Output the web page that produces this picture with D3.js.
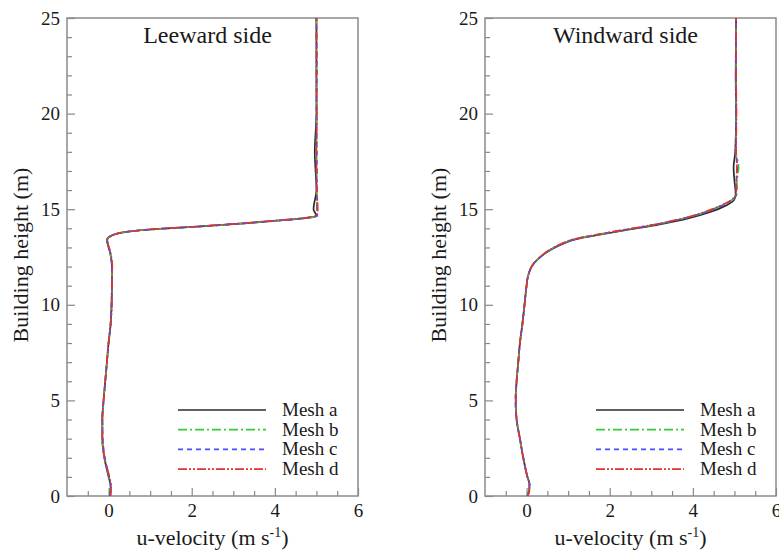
<!DOCTYPE html>
<html>
<head>
<meta charset="utf-8">
<script src="https://cdn.jsdelivr.net/npm/d3@7"></script>
<style>
  body { margin: 0; background: #fff; }
</style>
</head>
<body>
<div id="chart"></div>
<script>
var svgWidth = 779;
var svgHeight = 551;
var serif = "'Liberation Serif', 'Times New Roman', Times, serif";

// axis domains and ticks
var xDomain = [-1, 6];
var yDomain = [0, 25];
var xMajorTicks = [0, 2, 4, 6];
var yMajorTicks = [0, 5, 10, 15, 20, 25];

var meshLabels = ["Mesh a", "Mesh b", "Mesh c", "Mesh d"];
var meshColors = ["#2b2b2b", "#33cc33", "#4d4dff", "#e03333"];
var meshDashes = ["none", "9,3,2,3", "5,4", "9,2,2,2,2,2"];

// leeward side profiles: height (m) and u-velocity per mesh
var leeZ = [0, 0.5, 1, 2, 3, 4, 5, 6, 7, 8, 9, 10, 11, 12, 12.7, 13.4, 13.6, 13.8, 13.9, 14.0, 14.1, 14.25, 14.4, 14.55, 14.65, 15, 16, 18, 20, 22, 25];
var leeA = [0.03, 0.05, 0.0, -0.1, -0.15, -0.15, -0.12, -0.08, -0.04, 0.0, 0.05, 0.07, 0.08, 0.08, 0.04, -0.04, 0.05, 0.38, 0.77, 1.41, 2.21, 3.17, 4.05, 4.77, 5.0, 4.93, 5.0, 4.96, 5.0, 5.0, 5.0];
var leeB = [0.04, 0.05, 0.01, -0.1, -0.15, -0.15, -0.12, -0.08, -0.04, 0.0, 0.05, 0.07, 0.08, 0.08, 0.04, -0.03, 0.06, 0.4, 0.8, 1.44, 2.24, 3.2, 4.08, 4.8, 5.02, 5.01, 5.01, 5.0, 5.01, 5.0, 5.0];
var leeC = [0.04, 0.05, 0.01, -0.09, -0.14, -0.15, -0.12, -0.08, -0.04, 0.0, 0.05, 0.07, 0.08, 0.08, 0.04, -0.03, 0.06, 0.39, 0.79, 1.43, 2.23, 3.19, 4.07, 4.79, 5.02, 5.02, 5.01, 5.01, 5.0, 5.01, 5.0];
var leeD = [0.05, 0.06, 0.02, -0.1, -0.15, -0.15, -0.12, -0.08, -0.04, 0.0, 0.05, 0.08, 0.08, 0.09, 0.05, -0.03, 0.06, 0.38, 0.76, 1.38, 2.18, 3.13, 4.0, 4.74, 5.0, 5.03, 5.01, 5.0, 5.01, 5.0, 5.0];

// windward side profiles
var windZ = [0, 0.3, 0.6, 1, 2, 3, 4, 5, 6, 7, 8, 9, 10, 11, 11.45, 11.8, 12.0, 12.4, 12.85, 13.2, 13.45, 13.65, 13.9, 14.2, 14.5, 14.85, 15.2, 15.45, 15.8, 16.5, 17.2, 18, 20, 22, 25];
var windA = [0.02, 0.06, 0.07, 0.02, -0.08, -0.16, -0.24, -0.26, -0.24, -0.2, -0.16, -0.1, -0.05, 0.0, 0.03, 0.08, 0.12, 0.28, 0.56, 0.88, 1.22, 1.72, 2.38, 3.2, 3.86, 4.42, 4.8, 4.98, 5.03, 5.0, 4.98, 5.02, 5.04, 5.03, 5.04];
var windB = [0.02, 0.06, 0.07, 0.02, -0.08, -0.16, -0.24, -0.26, -0.24, -0.2, -0.16, -0.1, -0.05, 0.0, 0.03, 0.08, 0.12, 0.28, 0.55, 0.86, 1.18, 1.66, 2.3, 3.1, 3.74, 4.3, 4.7, 4.92, 5.05, 5.06, 5.1, 5.04, 5.04, 5.04, 5.04];
var windC = [0.02, 0.06, 0.07, 0.02, -0.08, -0.16, -0.24, -0.27, -0.24, -0.2, -0.16, -0.1, -0.05, 0.0, 0.03, 0.08, 0.12, 0.28, 0.55, 0.87, 1.19, 1.67, 2.31, 3.11, 3.75, 4.31, 4.71, 4.93, 5.05, 5.05, 5.07, 5.04, 5.04, 5.04, 5.04];
var windD = [0.03, 0.07, 0.07, 0.02, -0.08, -0.16, -0.24, -0.26, -0.24, -0.2, -0.16, -0.1, -0.05, 0.0, 0.03, 0.08, 0.12, 0.27, 0.54, 0.85, 1.17, 1.64, 2.28, 3.08, 3.72, 4.28, 4.68, 4.9, 5.04, 5.05, 5.06, 5.04, 5.05, 5.04, 5.04];

var svg = d3.select("#chart")
  .append("svg")
  .attr("width", svgWidth)
  .attr("height", svgHeight)
  .style("font-family", serif);

// plot area of each panel
var plotWidth = 291;
var plotHeight = 478;
var plotTop = 18;

function drawPanel(left, title, zs, series, labels) {
  var g = svg.append("g")
    .attr("transform", `translate(${left}, ${plotTop})`);

  var xScale = d3.scaleLinear().domain(xDomain).range([0, plotWidth]);
  var yScale = d3.scaleLinear().domain(yDomain).range([plotHeight, 0]);

  // inward ticks, major and minor
  var bottomMinor = d3.axisBottom(xScale)
    .tickValues(d3.range(-0.5, 6, 0.5).filter(d => d % 2 !== 0))
    .tickSize(-5).tickFormat("");
  var bottomMajor = d3.axisBottom(xScale)
    .tickValues(xMajorTicks)
    .tickFormat(d3.format("d"))
    .tickSizeInner(-8).tickSizeOuter(0).tickPadding(8);
  var leftMinor = d3.axisLeft(yScale)
    .tickValues(d3.range(1, 25, 1).filter(d => d % 5 !== 0))
    .tickSize(-5).tickFormat("");
  var leftMajor = d3.axisLeft(yScale)
    .tickValues(yMajorTicks)
    .tickFormat(d3.format("d"))
    .tickSizeInner(-8).tickSizeOuter(0).tickPadding(7);

  [bottomMinor, bottomMajor].forEach(function(ax) {
    g.append("g")
      .attr("transform", `translate(0, ${plotHeight})`)
      .call(ax);
  });
  [leftMinor, leftMajor].forEach(function(ax) {
    g.append("g").call(ax);
  });

  g.selectAll(".domain").remove();
  g.selectAll(".tick line").attr("stroke", "#888").attr("stroke-width", 1.2);
  g.selectAll(".tick text")
    .attr("fill", "#1a1a1a")
    .style("font-family", serif)
    .style("font-size", "19px");

  // frame
  g.append("rect")
    .attr("width", plotWidth)
    .attr("height", plotHeight)
    .attr("fill", "none")
    .attr("stroke", "#8a8a8a")
    .attr("stroke-width", 1.5);

  var line = d3.line()
    .x(d => xScale(d[0]))
    .y(d => yScale(d[1]))
    .curve(d3.curveMonotoneY);

  series.forEach(function(us, i) {
    g.append("path")
      .datum(us.map((u, k) => [u, zs[k]]))
      .attr("d", line)
      .attr("fill", "none")
      .attr("stroke", meshColors[i])
      .attr("stroke-width", 1.7)
      .attr("stroke-dasharray", meshDashes[i]);
  });

  // panel title
  g.append("text")
    .attr("x", plotWidth / 2 - 5)
    .attr("y", 25)
    .attr("text-anchor", "middle")
    .style("font-size", "24px")
    .attr("fill", "#1a1a1a")
    .text(title);

  // legend
  var legend = g.append("g")
    .attr("transform", "translate(111, 392)");
  labels.forEach(function(lab, i) {
    legend.append("line")
      .attr("x1", 0).attr("x2", 88)
      .attr("y1", i * 19.7).attr("y2", i * 19.7)
      .attr("stroke", meshColors[i])
      .attr("stroke-width", 1.7)
      .attr("stroke-dasharray", meshDashes[i]);
    legend.append("text")
      .attr("x", 104)
      .attr("y", i * 19.7 + 6)
      .style("font-size", "19px")
      .attr("fill", "#1a1a1a")
      .text(lab);
  });

  // axis titles; centred by measuring since the superscript shifts the run
  var xTitle = g.append("text")
    .attr("y", plotHeight + 49)
    .style("font-size", "22px")
    .attr("fill", "#1a1a1a");
  xTitle.append("tspan").text("u-velocity (m s");
  xTitle.append("tspan").attr("dy", -8).style("font-size", "14px").text("-1");
  xTitle.append("tspan").attr("dy", 8).text(")");
  var w = xTitle.node().getBBox().width;
  xTitle.attr("x", plotWidth / 2 - w / 2);

  g.append("text")
    .attr("transform", "rotate(-90)")
    .attr("x", -plotHeight / 2 + 2)
    .attr("y", -39)
    .attr("text-anchor", "middle")
    .style("font-size", "22px")
    .attr("fill", "#1a1a1a")
    .text("Building height (m)");
}

drawPanel(67, "Leeward side", leeZ, [leeA, leeB, leeC, leeD], meshLabels);
drawPanel(485, "Windward side", windZ, [windA, windB, windC, windD], meshLabels);
</script>
</body>
</html>
